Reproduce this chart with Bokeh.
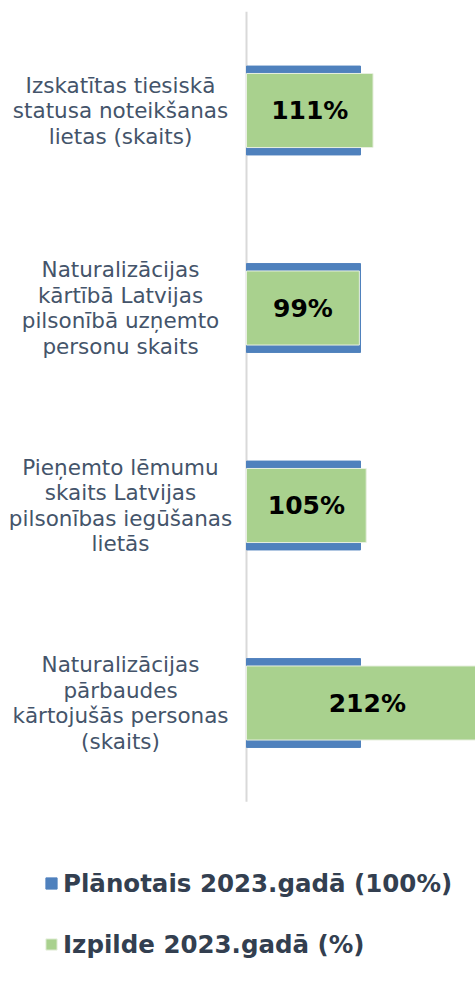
from bokeh.plotting import figure
from bokeh.models import ColumnDataSource, Range1d, Legend, LegendItem
from bokeh.core.properties import value
from bokeh.embed import file_html
from bokeh.resources import INLINE

# ---- data ----
categories = [
    "Izskatītas tiesiskā\nstatusa noteikšanas\nlietas (skaits)",
    "Naturalizācijas\nkārtībā Latvijas\npilsonībā uzņemto\npersonu skaits",
    "Pieņemto lēmumu\nskaits Latvijas\npilsonības iegūšanas\nlietās",
    "Naturalizācijas\npārbaudes\nkārtojušās personas\n(skaits)",
]
planned = [100, 100, 100, 100]
actual = [111, 99, 105, 212]
series_names = ["Plānotais 2023.gadā (100%)", "Izpilde 2023.gadā (%)"]
value_labels = [f"{v}%" for v in actual]

# ---- layout constants (pixels) ----
W, H = 475, 982
AXIS_PX = 246          # x=0 position inside frame
PX_PER_UNIT = 1.14     # px per percent
TOP_PX = 110           # first category center from frame top
CAT_PX = 197.5         # px per category
LABEL_X_PX = 120       # centre of category labels inside frame

FONT = "DejaVu Sans"
BLUE = "#4F81BD"
GREEN = "#A9D18E"

ypos = list(range(len(categories)))
src = ColumnDataSource(dict(
    y=ypos, planned=planned, actual=actual, cat=categories,
    vlab=value_labels, mid=[a / 2 for a in actual],
    labx=[(LABEL_X_PX - AXIS_PX) / PX_PER_UNIT] * len(categories),
))

x_range = Range1d(-AXIS_PX / PX_PER_UNIT, (W - AXIS_PX) / PX_PER_UNIT)
y_range = Range1d((H - TOP_PX) / CAT_PX, -TOP_PX / CAT_PX)

p = figure(width=W, height=H, x_range=x_range, y_range=y_range,
           output_backend="svg", toolbar_location=None,
           x_axis_location=None, y_axis_location=None, min_border=0)
p.grid.visible = False
p.outline_line_color = None
p.background_fill_color = "white"

# axis line (category axis spanning all category bands)
p.segment(x0=[0], y0=[-0.5], x1=[0], y1=[len(categories) - 0.5],
          line_color="#D9D9D9", line_width=2)

r_plan = p.hbar(y="y", right="planned", left=0, height=0.45, source=src,
                fill_color=BLUE, line_color=BLUE, line_width=1)
r_act = p.hbar(y="y", right="actual", left=0, height=0.375, source=src,
               fill_color=GREEN, line_color="#E8F0E0", line_width=1)

p.text(x="mid", y="y", text="vlab", source=src,
       text_font=value(FONT), text_font_size="25px", text_font_style="bold",
       text_color="black", text_align="center", text_baseline="middle")

p.text(x="labx", y="y", text="cat", source=src,
       text_font=value(FONT), text_font_size="21.5px",
       text_color="#44546A", text_align="center", text_baseline="middle",
       text_line_height=1.02)

legend = Legend(items=[LegendItem(label=series_names[0], renderers=[r_plan]),
                       LegendItem(label=series_names[1], renderers=[r_act])],
                location=(44, 23), orientation="vertical",
                label_text_font=FONT, label_text_font_size="24.5px",
                label_text_font_style="bold", label_text_color="#333F50",
                glyph_width=14, glyph_height=14, label_standoff=5,
                label_height=30, spacing=31, padding=0, margin=0,
                border_line_alpha=0, background_fill_alpha=0)
p.add_layout(legend)

open("out.html", "w").write(file_html(p, INLINE))
